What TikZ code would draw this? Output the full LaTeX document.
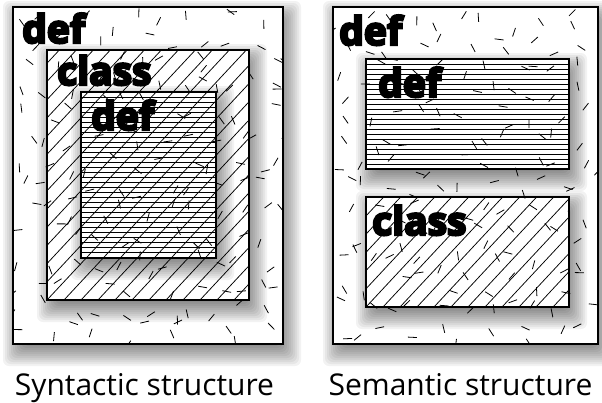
\documentclass[tikz,border=0pt]{standalone}
\usepackage{fontspec}
\newfontfamily\capfont{Open Sans}
\newfontfamily\heavyfont[FakeBold=6]{Open Sans}

\tikzset{
  frame/.style={draw=black,line width=1.3pt},
  hatch/.style={line width=0.75pt},
  speck/.style={line width=0.8pt},
  keyword/.style={anchor=base west,inner sep=0pt,
    font=\heavyfont\bfseries\fontsize{39}{39}\selectfont},
  caption/.style={anchor=base,inner sep=0pt,
    font=\capfont\fontsize{30}{30}\selectfont},
}

% blurred shadow under a box
\newcommand\dropshadow[4]{%
  \foreach \e in {-6,-4,...,14}
    \fill[black,opacity=0.05,rounded corners=6pt]
      (#1+4-\e,#2+8-\e) rectangle (#3+4+\e,#4+8+\e);}
% horizontal hatching
\newcommand\hlines[4]{%
  \begin{scope}
    \clip (#1,#2) rectangle (#3,#4);
    \foreach \d in {0,5,...,300}
      \draw[hatch] (#1,#2+\d) -- (#3,#2+\d);
  \end{scope}}
% diagonal hatching
\newcommand\dlines[4]{%
  \begin{scope}
    \clip (#1,#2) rectangle (#3,#4);
    \foreach \d in {-306,-289,...,300}
      \draw[hatch] (#1+\d,#4) -- ++(280,-300);
  \end{scope}}
% short strokes, one per cell of a jittered grid
\newcommand\specks[4]{%
  \begin{scope}
    \clip (#1,#2) rectangle (#3,#4);
    \foreach \gx in {0,24,...,280}
      \foreach \gy in {0,24,...,340}{
        \pgfmathsetmacro\px{#1+\gx+22*rnd}
        \pgfmathsetmacro\py{#2+\gy+22*rnd}
        \pgfmathsetmacro\pa{180*rnd}
        \draw[speck] (\px,\py) -- ++(\pa:9);
      }
  \end{scope}}

\begin{document}
\begin{tikzpicture}[x=1pt,y=-1pt]
  \useasboundingbox (0,0) rectangle (602,402);
  \pgfmathsetseed{4242}

  % Syntactic structure
  \dropshadow{13}{7}{283}{344}
  \fill[white] (13,7) rectangle (283,344);
  \dropshadow{47}{50}{249}{300}
  \fill[white] (47,50) rectangle (249,300);
  \dropshadow{81}{92}{216}{258}
  \fill[white] (81,92) rectangle (216,258);
  \dlines{47}{50}{249}{300}
  \hlines{81}{92}{216}{258}
  \specks{13}{7}{283}{344}
  \draw[frame] (13,7) rectangle (283,344);
  \draw[frame] (47,50) rectangle (249,300);
  \draw[frame] (81,92) rectangle (216,258);

  % Semantic structure
  \dropshadow{333}{7}{598}{344}
  \fill[white] (333,7) rectangle (598,344);
  \dropshadow{366}{59}{569}{169}
  \fill[white] (366,59) rectangle (569,169);
  \hlines{366}{59}{569}{169}
  \dropshadow{366}{197}{569}{307}
  \fill[white] (366,197) rectangle (569,307);
  \dlines{366}{197}{569}{307}
  \specks{333}{7}{598}{344}
  \draw[frame] (333,7) rectangle (598,344);
  \draw[frame] (366,59) rectangle (569,169);
  \draw[frame] (366,197) rectangle (569,307);

  % Keywords
  \node[keyword] (synOuterDef) at (22,43) {def};
  \node[keyword] (synClass) at (57,85) {class};
  \node[keyword] (synInnerDef) at (91,130) {def};
  \node[keyword] (semOuterDef) at (339,45) {def};
  \node[keyword] (semInnerDef) at (378,97) {def};
  \node[keyword] (semClass) at (372,235) {class};

  % Captions
  \node[caption] (synCaption) at (144.5,395) {Syntactic structure};
  \node[caption] (semCaption) at (460.5,395) {Semantic structure};
\end{tikzpicture}
\end{document}
